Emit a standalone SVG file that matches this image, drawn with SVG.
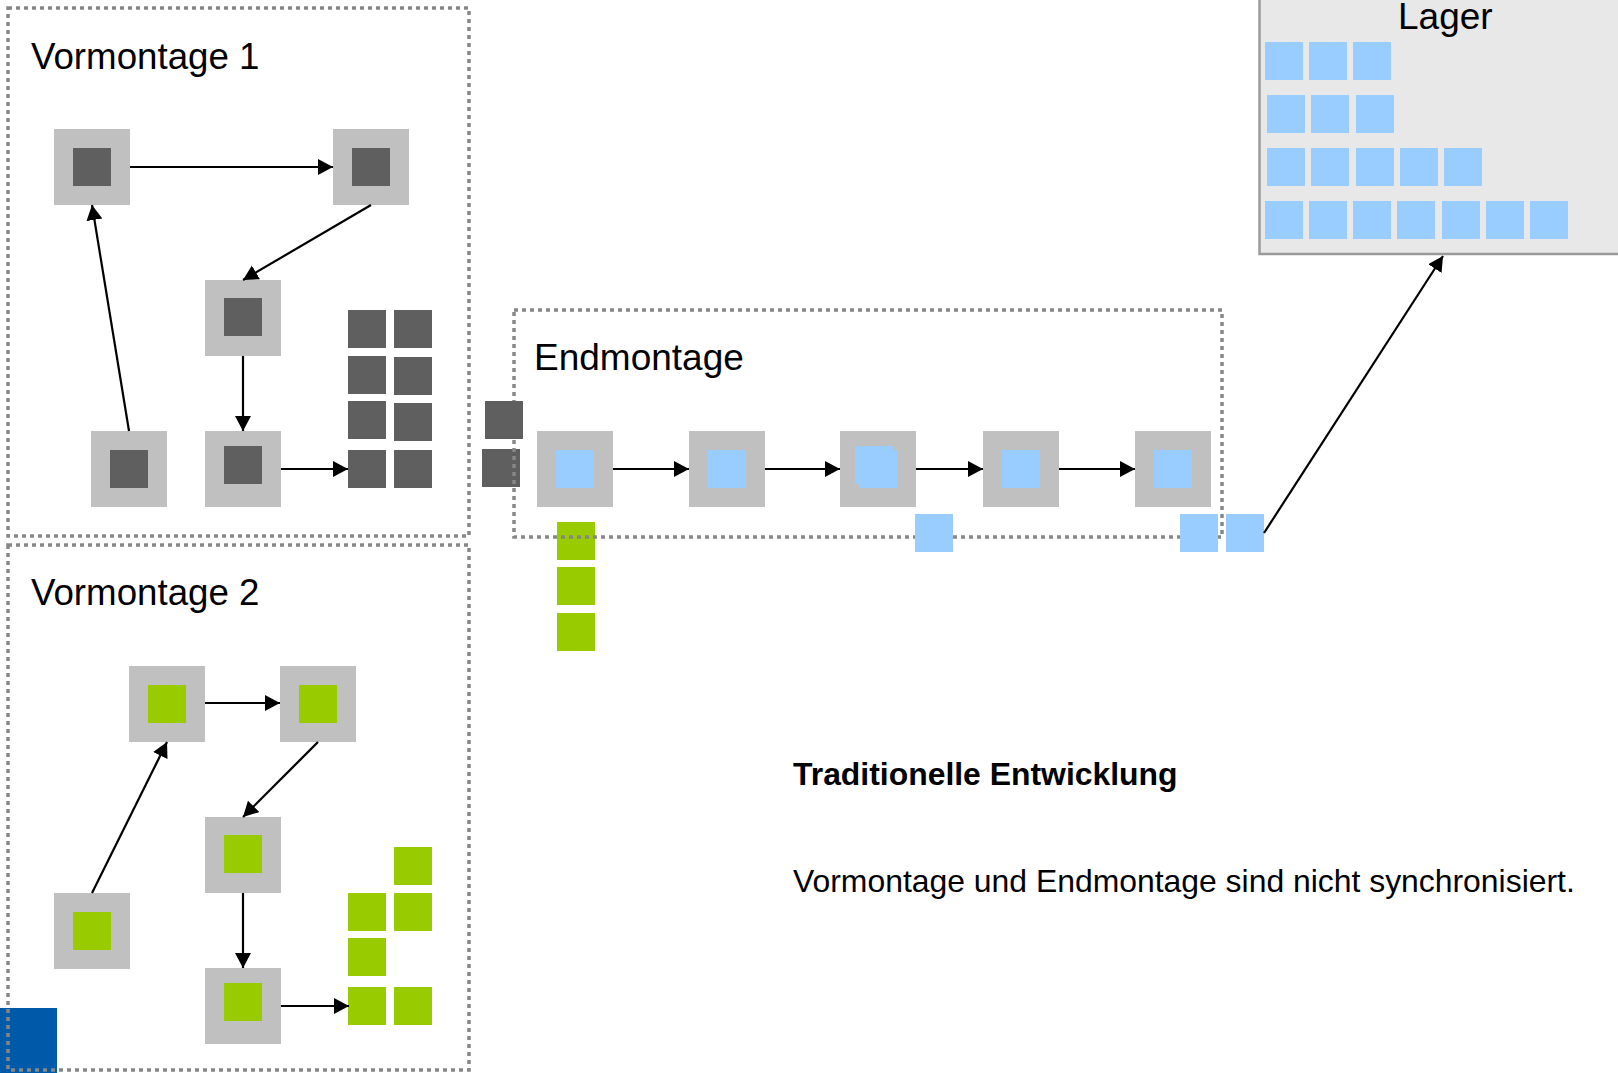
<svg xmlns="http://www.w3.org/2000/svg" width="1618" height="1073" viewBox="0 0 1618 1073">
  <style>
    .frame { fill: none; stroke: #878787; stroke-width: 3.5; stroke-dasharray: 4 4; }
    .station { fill: #C0C0C0; }
    .dark { fill: #5F5F5F; }
    .green { fill: #99CC00; }
    .blue { fill: #99CCFF; }
    .title { font-family: "Liberation Sans", Arial, sans-serif; font-size: 36.7px; fill: #000000; }
    .note { font-family: "Liberation Sans", Arial, sans-serif; font-size: 31.9px; fill: #000000; }
    .flow { stroke: #000000; stroke-width: 2.2; fill: none; marker-end: url(#arrow); }
  </style>
  <defs>
    <marker id="arrow" markerUnits="userSpaceOnUse" markerWidth="16" markerHeight="17" refX="15" refY="8" orient="auto">
      <path d="M0,0 L15,8 L0,16 z" fill="#000000"/>
    </marker>
  </defs>

  <rect width="1618" height="1073" fill="#FFFFFF"/>

  <!-- corner mark, under the Vormontage 2 frame -->
  <rect x="0" y="1008" width="57" height="65" fill="#005AAA"/>

  <!-- parts waiting in front of Endmontage (under its frame) -->
  <rect class="dark" x="482" y="449" width="38" height="38"/>
  <rect class="green" x="557" y="522" width="38" height="38"/>

  <!-- frames -->
  <g id="vormontage1">
    <rect class="frame" x="8" y="8" width="461" height="528"/>
    <text class="title" x="31" y="69">Vormontage 1</text>
  </g>
  <g id="vormontage2">
    <rect class="frame" x="8" y="545" width="461" height="525"/>
    <text class="title" x="31" y="605">Vormontage 2</text>
  </g>
  <g id="endmontage">
    <rect class="frame" x="514" y="310" width="708" height="227"/>
    <text class="title" x="534" y="370" style="font-size:37px">Endmontage</text>
  </g>

  <!-- Lager -->
  <g id="lager">
    <rect x="1259.5" y="-5" width="400" height="259" fill="#E8E8E8" stroke="#9A9A9A" stroke-width="2.5"/>
    <text class="title" x="1398" y="29" style="font-size:37px">Lager</text>
    <rect class="blue" x="1265" y="42" width="38" height="38"/>
    <rect class="blue" x="1309" y="42" width="38" height="38"/>
    <rect class="blue" x="1353" y="42" width="38" height="38"/>
    <rect class="blue" x="1267" y="95" width="38" height="38"/>
    <rect class="blue" x="1311" y="95" width="38" height="38"/>
    <rect class="blue" x="1356" y="95" width="38" height="38"/>
    <rect class="blue" x="1267" y="148" width="38" height="38"/>
    <rect class="blue" x="1311" y="148" width="38" height="38"/>
    <rect class="blue" x="1356" y="148" width="38" height="38"/>
    <rect class="blue" x="1400" y="148" width="38" height="38"/>
    <rect class="blue" x="1444" y="148" width="38" height="38"/>
    <rect class="blue" x="1265" y="201" width="38" height="38"/>
    <rect class="blue" x="1309" y="201" width="38" height="38"/>
    <rect class="blue" x="1353" y="201" width="38" height="38"/>
    <rect class="blue" x="1397" y="201" width="38" height="38"/>
    <rect class="blue" x="1442" y="201" width="38" height="38"/>
    <rect class="blue" x="1486" y="201" width="38" height="38"/>
    <rect class="blue" x="1530" y="201" width="38" height="38"/>
  </g>

  <!-- Vormontage 1 stations -->
  <g id="v1-a"><rect class="station" x="54" y="129" width="76" height="76"/><rect class="dark" x="73" y="148" width="38" height="38"/></g>
  <g id="v1-b"><rect class="station" x="333" y="129" width="76" height="76"/><rect class="dark" x="352" y="148" width="38" height="38"/></g>
  <g id="v1-c"><rect class="station" x="205" y="280" width="76" height="76"/><rect class="dark" x="224" y="298" width="38" height="38"/></g>
  <g id="v1-d"><rect class="station" x="91" y="431" width="76" height="76"/><rect class="dark" x="110" y="450" width="38" height="38"/></g>
  <g id="v1-e"><rect class="station" x="205" y="431" width="76" height="76"/><rect class="dark" x="224" y="446" width="38" height="38"/></g>
  <g id="v1-buffer">
    <rect class="dark" x="348" y="310" width="38" height="38"/>
    <rect class="dark" x="394" y="310" width="38" height="38"/>
    <rect class="dark" x="348" y="356" width="38" height="38"/>
    <rect class="dark" x="394" y="357" width="38" height="38"/>
    <rect class="dark" x="348" y="401" width="38" height="38"/>
    <rect class="dark" x="394" y="403" width="38" height="38"/>
    <rect class="dark" x="348" y="450" width="38" height="38"/>
    <rect class="dark" x="394" y="450" width="38" height="38"/>
  </g>

  <!-- Vormontage 2 stations -->
  <g id="v2-a"><rect class="station" x="129" y="666" width="76" height="76"/><rect class="green" x="148" y="685" width="38" height="38"/></g>
  <g id="v2-b"><rect class="station" x="280" y="666" width="76" height="76"/><rect class="green" x="299" y="685" width="38" height="38"/></g>
  <g id="v2-c"><rect class="station" x="205" y="817" width="76" height="76"/><rect class="green" x="224" y="835" width="38" height="38"/></g>
  <g id="v2-d"><rect class="station" x="54" y="893" width="76" height="76"/><rect class="green" x="73" y="912" width="38" height="38"/></g>
  <g id="v2-e"><rect class="station" x="205" y="968" width="76" height="76"/><rect class="green" x="224" y="983" width="38" height="38"/></g>
  <g id="v2-buffer">
    <rect class="green" x="394" y="847" width="38" height="38"/>
    <rect class="green" x="348" y="893" width="38" height="38"/>
    <rect class="green" x="394" y="893" width="38" height="38"/>
    <rect class="green" x="348" y="938" width="38" height="38"/>
    <rect class="green" x="348" y="987" width="38" height="38"/>
    <rect class="green" x="394" y="987" width="38" height="38"/>
  </g>

  <!-- Endmontage stations -->
  <g id="e-1"><rect class="station" x="537" y="431" width="76" height="76"/><rect class="blue" x="556" y="450" width="38" height="38"/></g>
  <g id="e-2"><rect class="station" x="689" y="431" width="76" height="76"/><rect class="blue" x="708" y="450" width="38" height="38"/></g>
  <g id="e-3"><rect class="station" x="840" y="431" width="76" height="76"/><rect class="blue" x="855" y="446" width="38" height="38"/><rect class="blue" x="859" y="450" width="38" height="38"/></g>
  <g id="e-4"><rect class="station" x="983" y="431" width="76" height="76"/><rect class="blue" x="1002" y="450" width="38" height="38"/></g>
  <g id="e-5"><rect class="station" x="1135" y="431" width="76" height="76"/><rect class="blue" x="1154" y="450" width="38" height="38"/></g>

  <!-- loose parts around Endmontage -->
  <g id="e-inflow">
    <rect class="dark" x="485" y="401" width="38" height="38"/>
    <rect class="green" x="557" y="567" width="38" height="38"/>
    <rect class="green" x="557" y="613" width="38" height="38"/>
  </g>
  <g id="e-outflow">
    <rect class="blue" x="915" y="514" width="38" height="38"/>
    <rect class="blue" x="1180" y="514" width="38" height="38"/>
    <rect class="blue" x="1226" y="514" width="38" height="38"/>
  </g>

  <!-- connectors -->
  <g id="connectors">
    <line class="flow" x1="130" y1="167" x2="333" y2="167"/>
    <line class="flow" x1="371" y1="205" x2="243" y2="280"/>
    <line class="flow" x1="243" y1="356" x2="243" y2="431"/>
    <line class="flow" x1="281" y1="469" x2="348" y2="469"/>
    <line class="flow" x1="129" y1="431" x2="92" y2="205"/>

    <line class="flow" x1="205" y1="703" x2="280" y2="703"/>
    <line class="flow" x1="318" y1="742" x2="243" y2="817"/>
    <line class="flow" x1="243" y1="893" x2="243" y2="968"/>
    <line class="flow" x1="281" y1="1006" x2="349" y2="1006"/>
    <line class="flow" x1="92" y1="893" x2="167" y2="742"/>

    <line class="flow" x1="613" y1="469" x2="689" y2="469"/>
    <line class="flow" x1="765" y1="469" x2="840" y2="469"/>
    <line class="flow" x1="916" y1="469" x2="983" y2="469"/>
    <line class="flow" x1="1059" y1="469" x2="1135" y2="469"/>

    <line class="flow" x1="1264" y1="533" x2="1443" y2="256"/>
  </g>

  <!-- caption -->
  <text class="note" x="793" y="785" font-weight="bold">Traditionelle Entwicklung</text>
  <text class="note" x="793" y="892">Vormontage und Endmontage sind nicht synchronisiert.</text>
</svg>
